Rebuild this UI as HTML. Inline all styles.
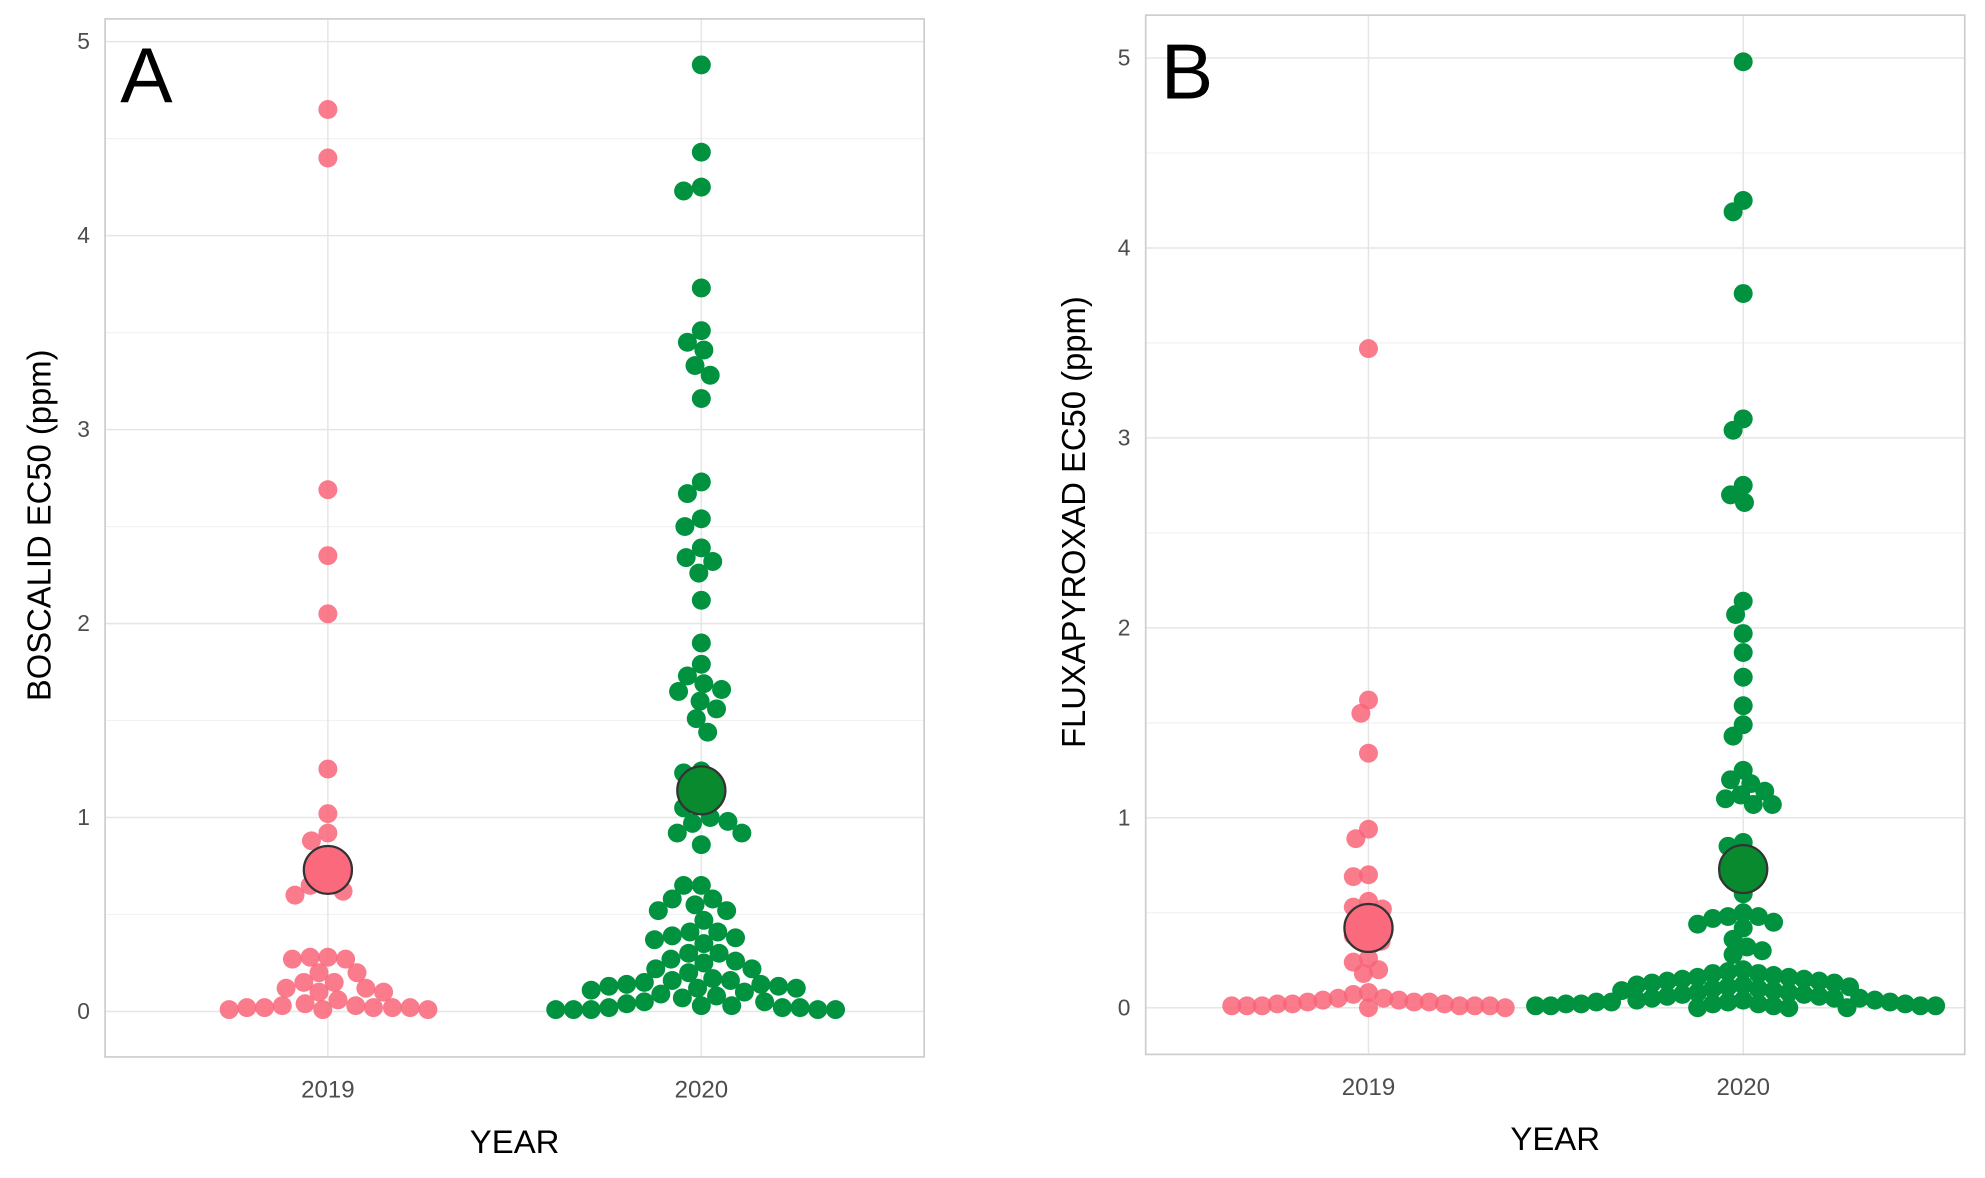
<!DOCTYPE html>
<html><head><meta charset="utf-8">
<style>
html,body{margin:0;padding:0;background:#fff;}
svg{display:block;}
text{font-family:"Liberation Sans",sans-serif;}
</style></head>
<body>
<svg id="chart" width="1985" height="1178" viewBox="0 0 1568 934" preserveAspectRatio="none" xmlns="http://www.w3.org/2000/svg"></svg>
<script>
const categories = ["2019", "2020"];
const yTicks = [0, 1, 2, 3, 4, 5];
const boscalid2019 = [4.65,4.4,2.69,2.35,2.05,1.25,1.02,0.92,0.88,0.67,0.65,0.62,0.60,
 0.28,0.27,0.28,0.27,0.20,0.20,0.15,0.15,0.12,0.12,0.10,0.10,0.06,0.04,0.03,0.03,0.02,0.02,0.02,0.02,0.01,0.01,0.02,0.01];
const boscalid2020 = [4.88,4.43,4.25,4.23,3.73,3.51,3.45,3.41,3.33,3.28,3.16,2.73,2.67,2.54,2.50,2.39,2.34,2.32,2.26,2.12,
 1.90,1.79,1.73,1.69,1.66,1.65,1.60,1.56,1.51,1.44,1.24,1.23,1.08,1.05,1.00,0.98,0.97,0.92,0.92,0.86,
 0.65,0.65,0.58,0.58,0.55,0.52,0.52,0.47,0.41,0.41,0.39,0.38,0.37,0.35,0.30,0.30,0.27,0.26,0.25,0.22,0.22,0.20,
 0.17,0.16,0.16,0.15,0.14,0.14,0.13,0.13,0.12,0.12,0.11,0.10,0.09,0.08,0.07,0.05,0.05,0.04,0.03,0.03,0.02,0.02,0.02,0.01,0.01,0.01,0.01,0.01];
const boscalidMeans = [0.73, 1.14];
const flux2019 = [3.47,1.62,1.55,1.34,0.94,0.89,0.70,0.69,0.56,0.53,0.52,0.40,0.38,0.35,0.26,0.24,0.20,0.18,
 0.08,0.07,0.05,0.05,0.04,0.04,0.03,0.03,0.03,0.02,0.02,0.02,0.01,0.01,0.01,0.01,0.01,0.01,0.0,0.0];
const flux2020 = [4.98,4.25,4.19,3.76,3.10,3.04,2.75,2.70,2.66,2.14,2.07,1.97,1.87,1.74,1.59,1.49,1.43,1.25,1.20,1.18,1.14,1.12,1.10,1.07,1.07,
 0.87,0.85,0.73,0.70,0.60,0.50,0.48,0.48,0.47,0.45,0.44,0.42,0.36,0.32,0.30,0.28,
 0.20,0.19,0.18,0.18,0.17,0.16,0.16,0.15,0.15,0.14,0.14,0.13,0.13,0.12,0.12,0.11,0.11,0.10,0.10,0.09,0.09,0.08,0.08,0.07,0.07,
 0.06,0.06,0.05,0.05,0.05,0.04,0.04,0.04,0.03,0.03,0.03,0.03,0.02,0.02,0.02,0.02,0.02,0.01,0.01,0.01,0.01,0.01,0.0,0.0,0.0];
const fluxMeans = [0.42, 0.73];

const NS = "http://www.w3.org/2000/svg";
const svg = document.getElementById("chart");
function mk(tag, attrs, parent){
  const e = document.createElementNS(NS, tag);
  for (const k in attrs) e.setAttribute(k, attrs[k]);
  (parent||svg).appendChild(e);
  return e;
}
const ptColors = ["rgba(248,100,120,0.85)", "rgba(0,146,63,1)"];
const meanColors = ["#fb6a7c", "#0a8a2e"];

function panel(cfg){
  const g = mk("g", {});
  
  
  const L=cfg.left,R=cfg.right,T=cfg.top,B=cfg.bottom;
  const yScale = v => cfg.y0 - v*cfg.unit;
  const xScale = i => cfg.xc[i];
  for (let v=0.5; v<5.5; v+=1){
    const y=yScale(v); if (y<T) continue;
    const l = mk("line",{x1:L,x2:R,y1:y,y2:y,stroke:"#f2f2f2","stroke-width":1},g);
    
    
  }
  yTicks.forEach(v=>{
    const y=yScale(v);
    const l = mk("line",{x1:L,x2:R,y1:y,y2:y,stroke:"#e6e6e6","stroke-width":1.2},g);
    
    
    const t = mk("text",{x:L-12,y:y+6,"text-anchor":"end","font-size":18,fill:"#4d4d4d"},g);
    t.textContent = v;
    
    
  });
  categories.forEach((c,i)=>{
    const x=xScale(i);
    const l = mk("line",{x1:x,x2:x,y1:T,y2:B,stroke:"#e6e6e6","stroke-width":1.2},g);
    
    
    const t = mk("text",{x:x,y:B+32,"text-anchor":"middle","font-size":19,fill:"#4d4d4d"},g);
    t.textContent = c;
    
    
  });
  const border = mk("rect",{x:L,y:T,width:R-L,height:B-T,fill:"none",stroke:"#cccccc","stroke-width":1.3},g);
  
  
  const r = 7.5, minD = cfg.minD;
  cfg.series.forEach((vals,i)=>{
    const placed=[];
    const sorted = vals.slice().sort((a,b)=>b-a);
    sorted.forEach(v=>{
      const y=yScale(v);
      let off=0;
      for (let k=0;k<600;k++){
        const cand = (k%2===0?1:-1)*Math.ceil(k/2)*1.0;
        if (placed.every(p=>Math.hypot(p.x-cand,p.y-y)>=minD)){off=cand;break;}
      }
      placed.push({x:off,y:y});
      const c = mk("circle",{cx:xScale(i)+off,cy:y,r:r,fill:ptColors[i]},g);
      
      
    });
  });
  cfg.means.forEach((m,i)=>{
    const c = mk("circle",{cx:xScale(i),cy:yScale(m),r:19,fill:meanColors[i],stroke:"#333","stroke-width":1.8},g);
    
    
  });
  const lt = mk("text",{x:L+12,y:T+66,"font-size":62,fill:"#000"},g);
  lt.textContent = cfg.letter;
  
  
  const xt = mk("text",{x:(L+R)/2,y:B+76,"text-anchor":"middle","font-size":26,fill:"#000"},g);
  xt.textContent = "YEAR";
  
  
  const ty=(T+B)/2-10;
  const yt = mk("text",{x:0,y:0,"text-anchor":"middle","font-size":26,fill:"#000",transform:`translate(${cfg.ytx},${ty}) rotate(-90)`},g);
  yt.textContent = cfg.ytitle;
  
  
}
panel({name:"panel-a-boscalid",left:83,right:730,top:15,bottom:838,y0:802,unit:153.8,xc:[259,554],minD:14,
  series:[boscalid2019,boscalid2020],means:boscalidMeans,letter:"A",ytitle:"BOSCALID EC50 (ppm)",ytx:40});
panel({name:"panel-b-fluxapyroxad",left:905,right:1552,top:12,bottom:836,y0:799,unit:150.6,xc:[1081,1377],minD:12,
  series:[flux2019,flux2020],means:fluxMeans,letter:"B",ytitle:"FLUXAPYROXAD EC50 (ppm)",ytx:857});
</script>
</body></html>
